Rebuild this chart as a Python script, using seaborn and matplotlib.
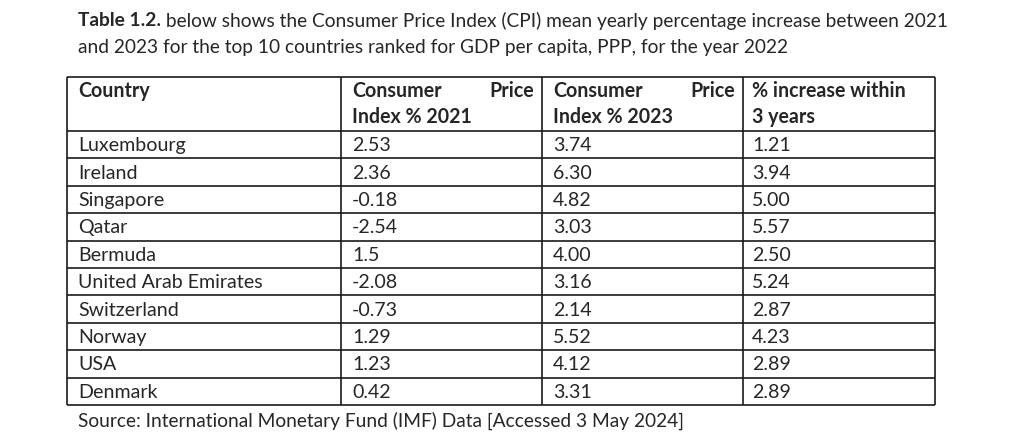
import matplotlib
matplotlib.use("Agg")
import matplotlib.pyplot as plt
import seaborn as sns

sns.set_theme(style="white")
plt.rcParams['font.family'] = ['Lato', 'DejaVu Sans']

# table content
countries = ['Luxembourg', 'Ireland', 'Singapore', 'Qatar', 'Bermuda',
             'United Arab Emirates', 'Switzerland', 'Norway', 'USA', 'Denmark']
cpi_2021 = ['2.53', '2.36', '-0.18', '-2.54', '1.5', '-2.08', '-0.73', '1.29', '1.23', '0.42']
cpi_2023 = ['3.74', '6.30', '4.82', '3.03', '4.00', '3.16', '2.14', '5.52', '4.12', '3.31']
increase_3y = ['1.21', '3.94', '5.00', '5.57', '2.50', '5.24', '2.87', '4.23', '2.89', '2.89']

title_bold = 'Table 1.2.'
title_line1 = ' below shows the Consumer Price Index (CPI) mean yearly percentage increase between 2021'
title_line2 = 'and 2023 for the top 10 countries ranked for GDP per capita, PPP, for the year 2022'
source_text = 'Source: International Monetary Fund (IMF) Data [Accessed 3 May 2024]'

# layout in pixels
col_edges = [67, 341, 542, 743, 935]
top, header_bottom, bottom = 77, 131, 405
pad = 11

fig = plt.figure(figsize=(10.24, 4.42), dpi=100)
ax = fig.add_axes([0, 0, 1, 1])
ax.set_xlim(0, 1024)
ax.set_ylim(442, 0)
ax.axis('off')

fig.canvas.draw()
renderer = fig.canvas.get_renderer()


def width_px(t):
    return t.get_window_extent(renderer).width


# pick the table font size so that "Luxembourg" is as wide as in the reference
probe = ax.text(0, 0, countries[0], fontsize=10)
fs = 10 * 108 / width_px(probe)
probe.remove()

row_h = (bottom - header_bottom) / len(countries)
row_edges = [top, header_bottom] + [header_bottom + row_h * (i + 1) for i in range(len(countries))]

ax.hlines(row_edges, col_edges[0], col_edges[-1], color='#1a1a1a', lw=1.2)
ax.vlines(col_edges, top, bottom, color='#1a1a1a', lw=1.2)

# header
y1, y2 = 91, 117
ax.text(col_edges[0] + pad, y1, 'Country', fontsize=fs, fontweight='bold', va='center')
for i, b in enumerate(['Index % 2021', 'Index % 2023']):
    x0 = col_edges[i + 1] + pad
    ax.text(x0, y1, 'Consumer', fontsize=fs, fontweight='bold', va='center')
    ax.text(col_edges[i + 2] - 8, y1, 'Price', fontsize=fs, fontweight='bold', va='center', ha='right')
    ax.text(x0, y2, b, fontsize=fs, fontweight='bold', va='center')
ax.text(col_edges[3] + 9, y1, '% increase within', fontsize=fs, fontweight='bold', va='center')
ax.text(col_edges[3] + 9, y2, '3 years', fontsize=fs, fontweight='bold', va='center')

# rows
for i in range(len(countries)):
    yc = header_bottom + row_h * (i + 0.5) + 1
    for j, col in enumerate([countries, cpi_2021, cpi_2023, increase_3y]):
        ax.text(col_edges[j] + (pad if j < 3 else 9), yc, col[i], fontsize=fs, va='center')

# title and source, fitted to the widths seen in the reference
tb = ax.text(78, 21, title_bold, fontsize=12, fontweight='bold', va='center')
tr = ax.text(0, 21, title_line1, fontsize=12, va='center')
tl2 = ax.text(78, 47, title_line2, fontsize=12, va='center')
scale = (947 - 78) / (width_px(tb) + width_px(tr))
for t in (tb, tr, tl2):
    t.set_fontsize(12 * scale)
tr.set_x(78 + width_px(tb))

src = ax.text(78, 421, source_text, fontsize=11, va='center')
src.set_fontsize(11 * (684 - 78) / width_px(src))

fig.savefig('out.png', dpi=100)
